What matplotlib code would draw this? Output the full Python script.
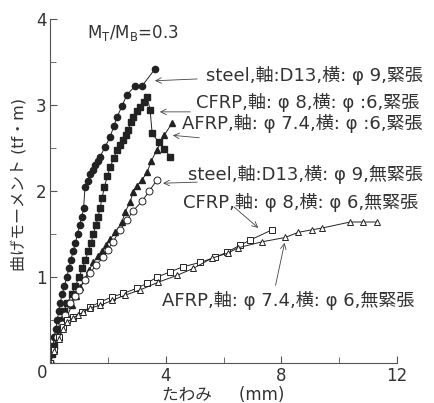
import numpy as np
import matplotlib
matplotlib.use('Agg')
import matplotlib.pyplot as plt
from matplotlib.ticker import MultipleLocator

plt.rcParams['font.family'] = ['DejaVu Sans', 'Noto Sans CJK JP']

# steel, tensioned (filled circles)
st_x = [0, 0.05, 0.1, 0.15, 0.2, 0.25, 0.3, 0.35, 0.42, 0.5, 0.58, 0.65, 0.72, 0.8, 0.88,
        0.95, 1.02, 1.1, 1.16, 1.21, 1.3, 1.38, 1.47, 1.56, 1.65, 1.73, 1.9, 2.08, 2.2, 2.32,
        2.49, 2.66, 2.94, 3.18, 3.63]
st_y = [0, 0.1, 0.2, 0.3, 0.4, 0.5, 0.6, 0.7, 0.8, 0.9, 1.0, 1.1, 1.2, 1.3, 1.4,
        1.5, 1.6, 1.7, 1.8, 2.05, 2.12, 2.2, 2.25, 2.3, 2.35, 2.4, 2.51, 2.63, 2.75, 2.86,
        2.99, 3.12, 3.22, 3.22, 3.42]
# CFRP, tensioned (filled squares)
cf_x = [0, 0.08, 0.15, 0.22, 0.3, 0.38, 0.47, 0.6, 0.75, 0.88, 1.0, 1.12, 1.22, 1.32, 1.42,
        1.5, 1.58, 1.66, 1.73, 1.8, 1.88, 1.98, 2.08, 2.2, 2.32, 2.43, 2.53, 2.62, 2.7, 2.8,
        2.87, 3.0, 3.11, 3.24, 3.36, 3.46, 3.53, 3.75, 3.95, 4.15]
cf_y = [0, 0.1, 0.2, 0.3, 0.4, 0.5, 0.6, 0.7, 0.8, 0.9, 1.0, 1.1, 1.2, 1.3, 1.4,
        1.5, 1.6, 1.7, 1.8, 1.92, 2.05, 2.17, 2.28, 2.38, 2.48, 2.54, 2.59, 2.65, 2.71, 2.8,
        2.86, 2.93, 2.98, 3.04, 3.09, 2.94, 2.67, 2.57, 2.49, 2.4]
# AFRP, tensioned (filled triangles)
af_x = [0, 0.15, 0.3, 0.45, 0.6, 0.75, 0.9, 1.05, 1.2, 1.35, 1.5, 1.65, 1.8, 1.95, 2.08,
        2.25, 2.49, 2.6, 2.77, 2.87, 3.0, 3.18, 3.36, 3.5, 3.7, 3.95, 4.22]
af_y = [0, 0.15, 0.3, 0.43, 0.55, 0.67, 0.78, 0.88, 0.98, 1.08, 1.17, 1.24, 1.3, 1.37, 1.44,
        1.52, 1.64, 1.76, 1.87, 1.99, 2.06, 2.13, 2.22, 2.35, 2.48, 2.65, 2.79]
# steel, untensioned (open circles)
su_x = [0, 0.1, 0.25, 0.4, 0.52, 0.7, 0.85, 1.0, 1.2, 1.38, 1.6, 1.83, 2.0, 2.18, 2.42,
        2.66, 2.87, 3.18, 3.43, 3.7]
su_y = [0, 0.15, 0.3, 0.45, 0.56, 0.7, 0.78, 0.85, 0.97, 1.05, 1.14, 1.23, 1.32, 1.41, 1.55,
        1.66, 1.77, 1.88, 2.0, 2.13]
# CFRP, untensioned (open squares)
cu_x = [0, 0.15, 0.3, 0.45, 0.6, 0.8, 1.11, 1.38, 1.73, 2.15, 2.53, 3.01, 3.36, 3.7, 4.15,
        4.6, 5.19, 5.71, 6.12, 6.57, 6.92, 7.68]
cu_y = [0, 0.15, 0.3, 0.42, 0.5, 0.54, 0.59, 0.65, 0.71, 0.77, 0.81, 0.87, 0.93, 1.0, 1.06,
        1.12, 1.17, 1.23, 1.29, 1.37, 1.43, 1.55]
# AFRP, untensioned (open triangles)
au_x = [0, 0.15, 0.3, 0.45, 0.6, 0.78, 0.97, 1.14, 1.38, 1.73, 2.15, 2.6, 3.11, 3.74, 4.39,
        4.95, 5.6, 6.16, 6.5, 7.33, 8.13, 8.58, 9.07, 9.41, 10.38, 10.83, 11.3]
au_y = [0, 0.14, 0.28, 0.4, 0.48, 0.52, 0.56, 0.59, 0.64, 0.67, 0.73, 0.79, 0.85, 0.94, 1.02,
        1.1, 1.22, 1.28, 1.34, 1.41, 1.46, 1.52, 1.55, 1.57, 1.64, 1.64, 1.64]

labels = ['steel,軸:D13,横: φ 9,緊張',
          'CFRP,軸: φ 8,横: φ :6,緊張',
          'AFRP,軸: φ 7.4,横: φ :6,緊張',
          'steel,軸:D13,横: φ 9,無緊張',
          'CFRP,軸: φ 8,横: φ 6,無緊張',
          'AFRP,軸: φ 7.4,横: φ 6,無緊張']
xticks = [0, 4, 8, 12]
yticks = [0, 1, 2, 3, 4]

ink = '#222222'
txt = '#333333'

fig = plt.figure(figsize=(4.35, 4.03), dpi=100)
ax = fig.add_axes([0.115, 0.099, 0.798, 0.854])

ax.plot(st_x, st_y, '-o', color=ink, mfc=ink, mec=ink, ms=4.5, lw=0.7)
ax.plot(cf_x, cf_y, '-s', color=ink, mfc=ink, mec=ink, ms=5, lw=0.7)
ax.plot(af_x, af_y, '-^', color=ink, mfc=ink, mec=ink, ms=3.8, lw=0.7)
ax.plot(su_x, su_y, '-o', color=ink, mfc='white', mec=ink, ms=5, mew=0.7, lw=0.7)
ax.plot(cu_x, cu_y, '-s', color=ink, mfc='white', mec=ink, ms=5, mew=0.7, lw=0.7)
ax.plot(au_x, au_y, '-^', color=ink, mfc='white', mec=ink, ms=4.5, mew=0.7, lw=0.7)

ax.set_xlim(0, 12)
ax.set_ylim(0, 4)
ax.set_xticks(xticks)
ax.set_xticklabels([''] + [str(v) for v in xticks[1:]])
ax.set_yticks(yticks)
ax.set_yticklabels([''] + [str(v) for v in yticks[1:]])
ax.xaxis.set_minor_locator(MultipleLocator(2))
ax.yaxis.set_minor_locator(MultipleLocator(0.5))
ax.spines['top'].set_visible(False)
ax.spines['right'].set_visible(False)
for s in ['left', 'bottom']:
    ax.spines[s].set_color('#555555')
    ax.spines[s].set_linewidth(0.8)
ax.tick_params(which='both', direction='in', colors='#555555', labelcolor=txt, labelsize=12)
ax.tick_params(which='major', length=5)
ax.tick_params(which='minor', length=4)
ax.tick_params(axis='y', pad=2.5)
ax.tick_params(axis='x', pad=2.5)
# shared origin label
ax.text(-0.022, -0.03, '0', transform=ax.transAxes, fontsize=12, color=txt,
        ha='center', va='center')

ax.set_xlabel('たわみ\u3000  (mm)', fontsize=12, color=txt, labelpad=1)
ax.set_ylabel('曲げモーメント (tf・m)', fontsize=11.5, color=txt)
ax.yaxis.set_label_coords(-0.068, 0.52)

ax.text(0.107, 0.96, 'M$_\\mathregular{T}$/M$_\\mathregular{B}$=0.3', transform=ax.transAxes,
        fontsize=12, color=txt, va='center')

# label positions in axes fraction, arrow tips in data units
lab_pos = [(0.45, 0.837), (0.42, 0.756), (0.38, 0.695), (0.398, 0.549), (0.383, 0.468), (0.323, 0.183)]
tips = [(3.53, 3.28), (3.7, 2.92), (4.15, 2.65), (3.81, 2.09), (7.27, 1.55), (8.13, 1.43)]
tails = [(0.432, 0.826), (0.412, 0.73), (0.438, 0.654), (0.432, 0.526), (0.524, 0.459), (0.648, 0.218)]

for lab, p, tp, tl in zip(labels, lab_pos, tips, tails):
    ax.text(p[0], p[1], lab, transform=ax.transAxes, fontsize=13, color=txt, va='center')
    ax.annotate('', xy=tp, xycoords='data', xytext=tl, textcoords='axes fraction',
                arrowprops=dict(arrowstyle='->', color='#444444', lw=0.6))

fig.savefig('out.png', dpi=100, facecolor='white')
